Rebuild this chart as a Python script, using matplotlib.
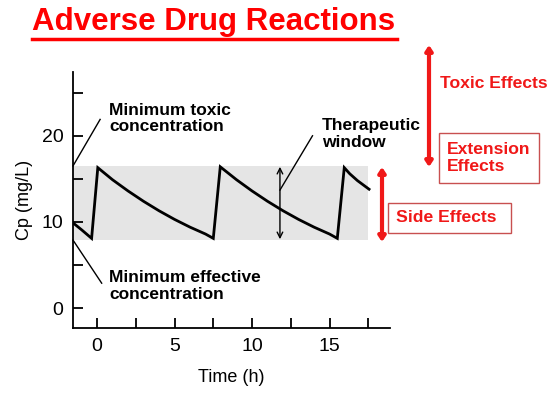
import numpy as np
import matplotlib.pyplot as plt
from matplotlib.patches import FancyArrowPatch, Rectangle
from matplotlib.lines import Line2D

plt.rcParams['font.family'] = ['Liberation Sans', 'DejaVu Sans']

# concentration curve (time in h, Cp in mg/L)
time_h = [-1.55, -1.0, -0.35, 0.05, 1, 2, 3, 4, 5, 6, 7, 7.5,
          7.95, 9, 10, 11, 12, 13, 14, 15, 15.5,
          15.95, 16.3, 16.8, 17.55]
cp = [9.9, 9.1, 8.1, 16.3, 14.9, 13.6, 12.4, 11.3, 10.3, 9.4, 8.6, 8.1,
      16.4, 14.9, 13.6, 12.4, 11.3, 10.3, 9.4, 8.6, 8.1,
      16.3, 15.6, 14.8, 13.8]

mec = 7.9    # minimum effective concentration
mtc = 16.5   # minimum toxic concentration
band_end = 17.5
window_t = 11.8

x_major = [0, 5, 10, 15]
x_minor = [2.5, 7.5, 12.5, 17.5]
y_major = [0, 10, 20]
y_minor = [5, 15, 25]

fig = plt.figure(figsize=(5.55, 3.94), dpi=100)
ax = fig.add_axes([73/555, 1-328/394, (390-73)/555, (328-72)/394])

ax.fill_between([-1.55, band_end], mec, mtc, color='#e5e5e5', lw=0)
ax.plot(time_h, cp, color='black', lw=2, solid_joinstyle='miter')

ax.set_xlim(-1.55, 18.9)
ax.set_ylim(-2.3, 27.4)
for s in ['top', 'right']:
    ax.spines[s].set_visible(False)
for s in ['left', 'bottom']:
    ax.spines[s].set_linewidth(1.3)
ax.set_xticks(x_major)
ax.set_xticks(x_minor, minor=True)
ax.set_yticks(y_major)
ax.set_yticks(y_minor, minor=True)
ax.tick_params(which='both', direction='in', length=7, width=1.3, labelsize=14, pad=7)
ax.set_xlabel('Time (h)', fontsize=13, labelpad=10)
ax.set_ylabel('Cp (mg/L)', fontsize=13, labelpad=6)

# therapeutic window arrow + labels
ax.annotate('', xy=(window_t, mtc - 0.1), xytext=(window_t, mec + 0.1),
            arrowprops=dict(arrowstyle='<->', color='black', lw=1, shrinkA=0, shrinkB=0))
ax.plot([window_t, 13.9], [13.7, 20.0], color='black', lw=1)
ax.text(14.5, 20.2, 'Therapeutic\nwindow', fontsize=12.5, fontweight='bold',
        va='center', linespacing=1.15)

ax.plot([-1.55, 0.2], [mtc, 21.9], color='black', lw=1, clip_on=False)
ax.text(0.8, 22.0, 'Minimum toxic\nconcentration', fontsize=12.5, fontweight='bold',
        va='center', linespacing=1.15)
ax.plot([-1.55, 0.3], [mec, 2.9], color='black', lw=1, clip_on=False)
ax.text(0.8, 2.6, 'Minimum effective\nconcentration', fontsize=12.5, fontweight='bold',
        va='center', linespacing=1.15)

# title
fig.text(214/555, 1-22/394, 'Adverse Drug Reactions', color='red', fontsize=22.5,
         fontweight='bold', ha='center', va='center')
fig.lines.append(Line2D([32/555, 397/555], [1-39/394, 1-39/394], color='red', lw=2.5,
                        transform=fig.transFigure))

red = '#f01818'
def red_arrow(x, y0, y1):
    fig.patches.append(FancyArrowPatch((x/555, 1-y0/394), (x/555, 1-y1/394),
                                       arrowstyle='<|-|>,head_length=3,head_width=2',
                                       color=red, lw=3, transform=fig.transFigure,
                                       shrinkA=0, shrinkB=0))

red_arrow(429, 45, 167)
red_arrow(382, 167, 242)

fig.text(440/555, 1-83/394, 'Toxic Effects', color=red, fontsize=12.6,
         fontweight='bold', va='center')
fig.patches.append(Rectangle((439/555, 1-183/394), 100/555, 50/394, fill=False,
                             ec='#c85050', lw=1, transform=fig.transFigure))
fig.text(447/555, 1-158/394, 'Extension\nEffects', color=red, fontsize=12.6,
         fontweight='bold', va='center', linespacing=1.15)
fig.patches.append(Rectangle((388/555, 1-233/394), 123/555, 30/394, fill=False,
                             ec='#c85050', lw=1, transform=fig.transFigure))
fig.text(396/555, 1-218/394, 'Side Effects', color=red, fontsize=12.6,
         fontweight='bold', va='center')

fig.savefig('out.png', dpi=100)
